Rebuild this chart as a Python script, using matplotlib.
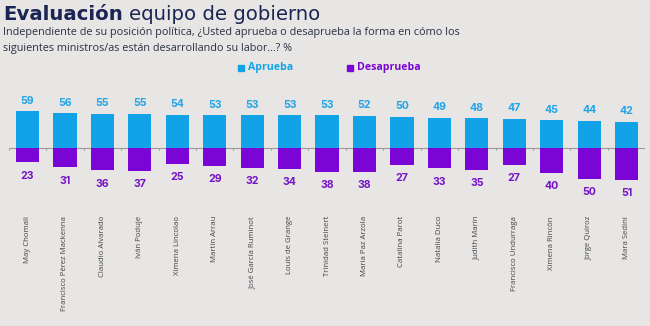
import numpy as np
import matplotlib.pyplot as plt
from matplotlib.transforms import blended_transform_factory
from matplotlib.patches import Rectangle

# data
ministros = ["May Chomali", "Francisco Pérez Mackenna", "Claudio Alvarado", "Iván Poduje",
             "Ximena Lincolao", "Martín Arrau", "José García Ruminot", "Louis de Grange",
             "Trinidad Steinert", "María Paz Arzola", "Catalina Parot", "Natalia Duco",
             "Judith Marín", "Francisco Undurraga", "Ximena Rincón", "Jorge Quiroz", "Mara Sedini"]
aprueba = [59, 56, 55, 55, 54, 53, 53, 53, 53, 52, 50, 49, 48, 47, 45, 44, 42]
desaprueba = [23, 31, 36, 37, 25, 29, 32, 34, 38, 38, 27, 33, 35, 27, 40, 50, 51]

BG = "#e8e6e5"
BLUE = "#12a2e8"
PURPLE = "#7a05d4"
NAVY = "#1b2553"
FONT = ["Open Sans", "DejaVu Sans"]

plt.rcParams['font.family'] = FONT

W, H = 650, 326
fig = plt.figure(figsize=(W / 100, H / 100), dpi=100, facecolor=BG)

# axes placed in pixel terms: zero line at y=148, ~0.62 px per point
top_px, bot_px = 95, 200
ax = fig.add_axes([8.8 / W, (H - bot_px) / H, 636.5 / W, (bot_px - top_px) / H])
ax.set_facecolor(BG)
x = np.arange(len(ministros))
ax.bar(x, aprueba, width=0.62, color=BLUE)
ax.bar(x, [-d for d in desaprueba], width=0.62, color=PURPLE)
ax.set_xlim(-0.5, len(ministros) - 0.5)
ax.set_ylim(-(bot_px - 148) / 0.62, (148 - top_px) / 0.62)
ax.axis("off")

# zero line with small ticks between categories
ax.axhline(0, color="#9a9a9a", lw=0.8, zorder=0)
for b in np.arange(-0.5, len(ministros), 1.0):
    ax.plot([b, b], [0, -3], color="#9a9a9a", lw=0.6, zorder=0)

# value labels
for i in x:
    ax.annotate(str(aprueba[i]), (i, aprueba[i]), xytext=(0, 4), textcoords="offset points",
                ha="center", va="bottom", fontsize=7.6, fontweight="bold", color="#22a4e6",
                family=["Inter", "DejaVu Sans"])
    ax.annotate(str(desaprueba[i]), (i, -desaprueba[i]), xytext=(0, -6), textcoords="offset points",
                ha="center", va="top", fontsize=7.6, fontweight="bold", color="#7413c6",
                family=["Inter", "DejaVu Sans"])

# names under the chart
tr = blended_transform_factory(ax.transData, fig.transFigure)
for i, name in enumerate(ministros):
    ax.text(i, 1 - 216 / H, name, transform=tr, rotation=90, ha="center", va="top",
            fontsize=5.6, color="#444444")

# title and subtitle
t1 = fig.text(3 / W, 1 - 15 / H, "Evaluación", fontsize=14.2, fontweight="bold",
              color=NAVY, va="center", ha="left", family=["DejaVu Sans"])
fig.canvas.draw()
bb = t1.get_window_extent()
fig.text((bb.x1 + 6) / W, 1 - 15 / H, "equipo de gobierno", fontsize=14.2, color=NAVY,
         va="center", ha="left", family=["DejaVu Sans"])
fig.text(3 / W, 1 - 33 / H, "Independiente de su posición política, ¿Usted aprueba o desaprueba la forma en cómo los",
         fontsize=7.8, color="#2a2f45", va="center", ha="left")
fig.text(3 / W, 1 - 48 / H, "siguientes ministros/as están desarrollando su labor...? %",
         fontsize=7.8, color="#2a2f45", va="center", ha="left")

# legend
for px, label, col in [(238, "Aprueba", BLUE), (347, "Desaprueba", PURPLE)]:
    fig.patches.append(Rectangle((px / W, 1 - 70.5 / H), 6 / W, 6 / H, color=col,
                                 transform=fig.transFigure, figure=fig))
    fig.text((px + 9.5) / W, 1 - 67.5 / H, label, fontsize=7.6, fontweight="bold",
             color=col, va="center", ha="left")

fig.savefig("out.png", dpi=100, facecolor=BG)
